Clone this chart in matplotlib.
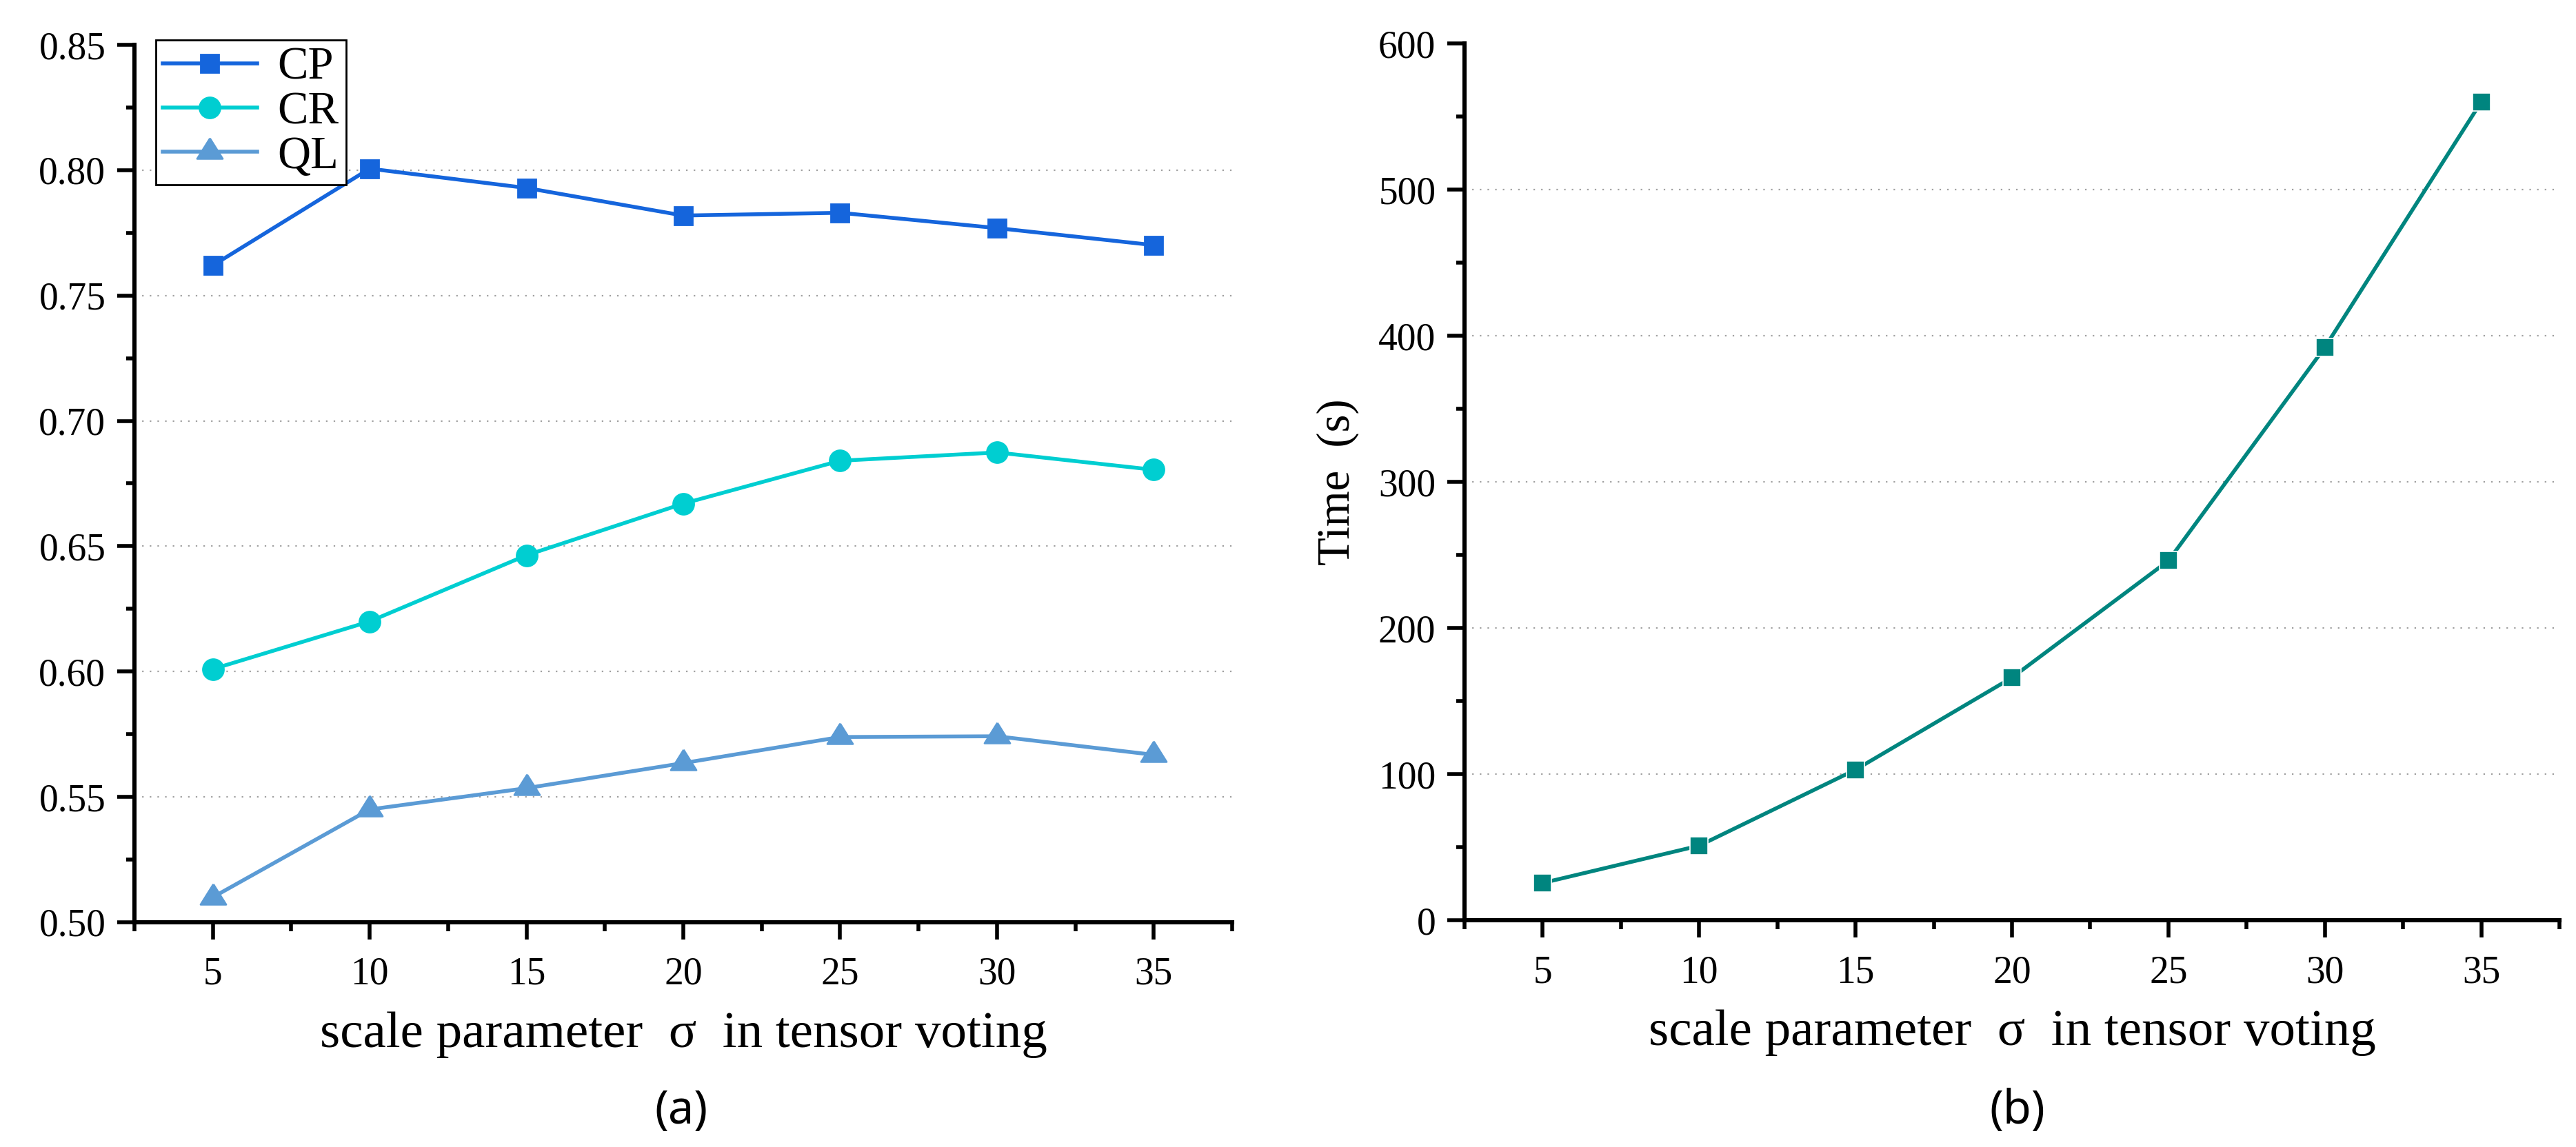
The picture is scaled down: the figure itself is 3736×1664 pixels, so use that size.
import matplotlib.pyplot as plt
from matplotlib.ticker import MultipleLocator, FormatStrFormatter

# data
sigma = [5, 10, 15, 20, 25, 30, 35]
cp = [0.762, 0.8006, 0.7929, 0.7819, 0.7830, 0.7769, 0.7701]
cr = [0.601, 0.620, 0.6464, 0.667, 0.6841, 0.6874, 0.6805]
ql = [0.510, 0.545, 0.5535, 0.5635, 0.5739, 0.5742, 0.5668]
time_s = [25.5, 51, 103, 166, 246, 392, 560]

yticks_a = [0.50, 0.55, 0.60, 0.65, 0.70, 0.75, 0.80, 0.85]
yticks_b = [0, 100, 200, 300, 400, 500, 600]
xticks = [5, 10, 15, 20, 25, 30, 35]

plt.rcParams['font.family'] = ['Liberation Serif', 'DejaVu Serif']

W, H = 3737, 1664
fig = plt.figure(figsize=(W / 200, H / 200), dpi=200)

ax1 = fig.add_axes([195 / W, (H - 1338) / H, 1592 / W, 1273 / H])
ax2 = fig.add_axes([2124 / W, (H - 1335) / H, 1588 / W, 1272 / H])

# triangle with the line through its centroid
tri = [(0, 1.0667), (-1, -0.5333), (1, -0.5333), (0, 1.0667)]

ax1.plot(sigma, cp, color='#1565DC', lw=2.0, marker='s', ms=9.7, label='CP', clip_on=False, zorder=3)
ax1.plot(sigma, cr, color='#00CED1', lw=2.0, marker='o', ms=10.8, label='CR', clip_on=False, zorder=3)
ax1.plot(sigma, ql, color='#5B9BD5', lw=2.0, marker=tri, ms=14.2, label='QL', clip_on=False, zorder=3)

ax2.plot(sigma, time_s, color='#00857F', lw=2.0, marker='s', ms=9.7,
         markeredgecolor='white', markeredgewidth=0.6, clip_on=False, zorder=3)

def style(ax, yticks, minor, fmt):
    ax.set_xlim(2.5, 37.5)
    ax.set_ylim(yticks[0], yticks[-1])
    ax.set_xticks(xticks)
    ax.set_yticks(yticks)
    ax.xaxis.set_minor_locator(MultipleLocator(2.5))
    ax.yaxis.set_minor_locator(MultipleLocator(minor))
    ax.yaxis.set_major_formatter(FormatStrFormatter(fmt))
    for s in ['top', 'right']:
        ax.spines[s].set_visible(False)
    for s in ['left', 'bottom']:
        ax.spines[s].set_linewidth(2.2)
    ax.tick_params(which='major', direction='out', length=9, width=2.0, labelsize=20)
    ax.tick_params(which='minor', direction='out', length=4.5, width=2.0)
    ax.tick_params(axis='x', which='major', pad=9)
    ax.tick_params(axis='y', which='major', pad=6)
    for v in yticks[1:-1]:
        ax.axhline(v, color='#a0a0a0', lw=0.8, linestyle=(0, (1, 4)), zorder=1)
    ax.set_xlabel('scale parameter  σ  in tensor voting', fontsize=27, labelpad=10)

style(ax1, yticks_a, 0.025, '%.2f')
style(ax2, yticks_b, 50, '%d')
ax2.set_ylabel('Time  (s)', fontsize=24, labelpad=10)

leg = ax1.legend(loc='upper left', bbox_to_anchor=(0.0195, 1.0055), borderaxespad=0,
                 fontsize=24, fancybox=False, edgecolor='black', framealpha=1,
                 handlelength=2.05, handletextpad=0.45, labelspacing=0.05, borderpad=0.15)
leg.get_frame().set_linewidth(1.0)

fig.text(988 / W, (H - 1612) / H, '(a)', fontsize=24, family='Noto Sans', ha='center', va='center')
fig.text(2926 / W, (H - 1612) / H, '(b)', fontsize=24, family='Noto Sans', ha='center', va='center')

fig.savefig('out.png', dpi=200)
